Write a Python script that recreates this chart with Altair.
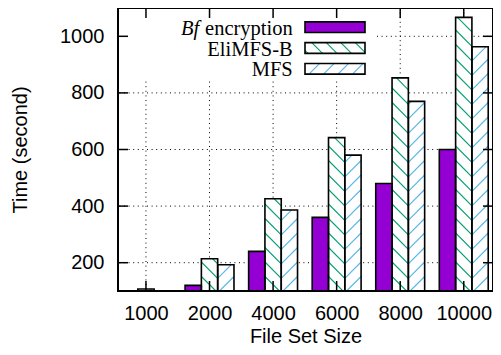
import altair as alt
import pandas as pd

# ---------------- data ----------------
sizes = ["1000", "2000", "4000", "6000", "8000", "10000"]
series = ["Bf encryption", "EliMFS-B", "MFS"]
bf_enc = [60, 120, 240, 360, 480, 600]
elimfs_b = [107, 214, 426, 642, 853, 1067]
mfs = [96, 193, 386, 580, 770, 963]
y_ticks = [200, 400, 600, 800, 1000]

fills = ["#9400d3", "white", "white"]
hatch_colors = [None, "#009e73", "#56b4e9"]
hatch_dirs = [None, "back", "fwd"]

# ---------------- geometry ----------------
W, H = 375, 283
XD = [-0.44, 5.46]
YD = [100, 1100]
BW = 0.2565
SX = W / (XD[1] - XD[0])
SY = H / (YD[1] - YD[0])
P = 14.5  # hatch period (px)

xscale = alt.Scale(domain=XD, nice=False, zero=False)
yscale = alt.Scale(domain=YD, nice=False, zero=False)

label_expr = "[" + ",".join("'%s'" % s for s in sizes) + "][datum.value]"
x_axis = alt.Axis(values=list(range(len(sizes))), labelExpr=label_expr, title="File Set Size",
                  grid=False, domain=False, ticks=False, tickSize=0, labelPadding=12,
                  labelFont="Liberation Sans", labelFontSize=20, labelColor="black",
                  titleFont="Liberation Sans", titleFontSize=20, titleFontWeight="normal",
                  titleColor="black", titleX=W / 2, titleY=45, titleBaseline="middle")
y_axis = alt.Axis(values=y_ticks, format="d", title="Time (second)", grid=False, domain=False,
                  ticks=False, tickSize=0, labelPadding=14,
                  labelFont="Liberation Sans", labelFontSize=20, labelColor="black",
                  titleFont="Liberation Sans", titleFontSize=20, titleFontWeight="normal",
                  titleColor="black", titleX=-98, titleY=H / 2, titleBaseline="middle",
                  titleAngle=270, titleAlign="center")


def X(f):
    return alt.X(f, scale=xscale, axis=x_axis)


def Y(f):
    return alt.Y(f, scale=yscale, axis=y_axis)


def px2x(px):
    return XD[0] + px / SX


def py2y(py):  # py measured downward from the plot top
    return YD[1] - py / SY


def hatch_lines(w, h, direction, phase):
    """segments in local px coords (X right, Y up) for a w x h box"""
    segs = []
    if direction == "back":  # Y = c - X
        k = -2
        while True:
            c = phase + k * P
            k += 1
            if c <= 0:
                continue
            if c >= h + w:
                break
            x0, x1 = max(0, c - h), min(w, c)
            if x1 - x0 > 0.3:
                segs.append((x0, c - x0, x1, c - x1))
    else:  # Y = c + X
        k = -int((w + h) / P) - 3
        while True:
            c = phase + k * P
            k += 1
            if c <= -w:
                continue
            if c >= h:
                break
            x0, x1 = max(0, -c), min(w, h - c)
            if x1 - x0 > 0.3:
                segs.append((x0, c + x0, x1, c + x1))
    return segs


values = [bf_enc, elimfs_b, mfs]
bar_rows, hatch_rows = [], []
for s, name in enumerate(series):
    for i, v in enumerate(values[s]):
        xl = i + (s - 1) * BW - BW / 2
        xr = xl + BW
        bar_rows.append({"series": name, "x0": xl, "x1": xr, "v": v, "base": 0})
        if hatch_dirs[s] is None:
            continue
        w = BW * SX
        h = (v - YD[0]) * SY
        if h <= 0:
            continue
        phase = 0.0 if hatch_dirs[s] == "back" else -w
        for (a, b, c, d) in hatch_lines(w, h, hatch_dirs[s], phase):
            hatch_rows.append({"series": name,
                               "hx0": xl + a / SX, "hy0": YD[0] + b / SY,
                               "hx1": xl + c / SX, "hy1": YD[0] + d / SY})

# ---------------- legend (positioned in plot px, mapped to data) ----------------
LX0, LX1, LH = 187, 247, 10.7
row_c = [19.2, 40.0, 60.8]
leg_box_rows, leg_hatch_rows = [], []
for s, name in enumerate(series):
    leg_box_rows.append({"series": name, "x0": px2x(LX0), "x1": px2x(LX1),
                         "v": py2y(row_c[s] - LH / 2), "base": py2y(row_c[s] + LH / 2)})
for s in (1, 2):
    top = row_c[s] - LH / 2
    w = LX1 - LX0
    phase = 3.0 if hatch_dirs[s] == "back" else -4.0
    for (a, b, c, d) in hatch_lines(w, LH, hatch_dirs[s], phase):
        leg_hatch_rows.append({"series": series[s],
                               "hx0": px2x(LX0 + a), "hy0": py2y(top + LH - b),
                               "hx1": px2x(LX0 + c), "hy1": py2y(top + LH - d)})

bars_df = pd.DataFrame(bar_rows)
leg_df = pd.DataFrame(leg_box_rows)
hatch_df = pd.DataFrame(hatch_rows)
leg_hatch_df = pd.DataFrame(leg_hatch_rows)
xt_df = pd.DataFrame({"i": list(range(len(sizes)))})
yt_df = pd.DataFrame({"v": y_ticks})

color_fill = alt.Scale(domain=series, range=fills)
color_hatch = alt.Scale(domain=series[1:], range=hatch_colors[1:])

dot = [1, 3.6]
grid_v = alt.Chart(xt_df).mark_rule(color="black", strokeWidth=1, strokeDash=dot).encode(x=X("i:Q"))
grid_h = alt.Chart(yt_df).mark_rule(color="black", strokeWidth=1, strokeDash=dot).encode(y=Y("v:Q"))


def fill_layer(df):
    return alt.Chart(df).mark_bar(clip=True, strokeWidth=0).encode(
        x=X("x0:Q"), x2="x1:Q", y=Y("v:Q"), y2="base:Q",
        fill=alt.Fill("series:N", scale=color_fill, legend=None))


def line_layer(df):
    return alt.Chart(df).mark_bar(clip=True, fillOpacity=0, stroke="black", strokeWidth=1.6).encode(
        x=X("x0:Q"), x2="x1:Q", y=Y("v:Q"), y2="base:Q")


def hatch_layer(df):
    return alt.Chart(df).mark_rule(clip=True, strokeWidth=1.1).encode(
        x=X("hx0:Q"), x2="hx1:Q", y=Y("hy0:Q"), y2="hy1:Q",
        color=alt.Color("series:N", scale=color_hatch, legend=None))


leg_bg = alt.Chart(pd.DataFrame({"a": [0]})).mark_rect(fill="white").encode(
    x=alt.value(1), x2=alt.value(259), y=alt.value(1), y2=alt.value(71))

txt_df = pd.DataFrame({"t": ["encryption", series[1], series[2]],
                       "ty": [py2y(c + 7.6) for c in row_c]})
leg_text = alt.Chart(txt_df).mark_text(align="right", baseline="alphabetic",
                                       font="Liberation Serif", fontSize=20.5, color="black").encode(
    x=alt.value(174.7), y=Y("ty:Q"), text="t:N")
bf_df = pd.DataFrame({"t": [series[0].split(" ")[0]], "ty": [py2y(row_c[0] + 7.6)]})
leg_bf = alt.Chart(bf_df).mark_text(align="left", baseline="alphabetic", font="Liberation Serif",
                                    fontStyle="italic", fontSize=20.5, color="black").encode(
    x=alt.value(63), y=Y("ty:Q"), text="t:N")

# ---------------- inward ticks and frame ----------------
TL = 10
tk = dict(color="black", strokeWidth=1.5)
tick_l = alt.Chart(yt_df).mark_rule(**tk).encode(x=alt.value(0), x2=alt.value(TL), y=Y("v:Q"))
tick_r = alt.Chart(yt_df).mark_rule(**tk).encode(x=alt.value(W), x2=alt.value(W - TL), y=Y("v:Q"))
tick_b = alt.Chart(xt_df).mark_rule(**tk).encode(x=X("i:Q"), y=alt.value(H), y2=alt.value(H - TL))
tick_t = alt.Chart(xt_df).mark_rule(**tk).encode(x=X("i:Q"), y=alt.value(0), y2=alt.value(TL))
frame = alt.Chart(pd.DataFrame({"a": [0]})).mark_rect(fillOpacity=0, stroke="black", strokeWidth=2).encode(
    x=alt.value(0), x2=alt.value(W), y=alt.value(0), y2=alt.value(H))

chart = alt.layer(
    grid_v, grid_h, fill_layer(bars_df), hatch_layer(hatch_df), line_layer(bars_df),
    leg_bg, fill_layer(leg_df), hatch_layer(leg_hatch_df), line_layer(leg_df), leg_text, leg_bf,
    tick_l, tick_r, tick_b, tick_t, frame
).properties(
    width=W, height=H,
    autosize=alt.AutoSizeParams(type="none"),
    padding={"left": 110, "top": 0, "right": 0, "bottom": 56},
    background="white",
).configure_view(strokeWidth=0)

chart.save("out.html", embed_options={"renderer": "svg", "actions": False})
